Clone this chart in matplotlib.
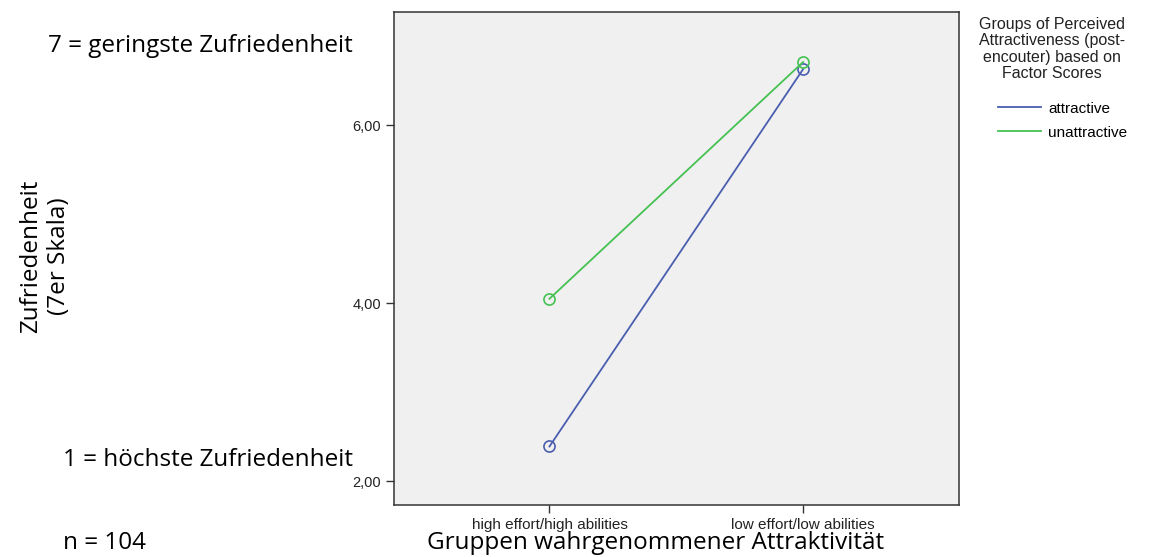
import numpy as np
import matplotlib
matplotlib.use("Agg")
import matplotlib.pyplot as plt
from matplotlib.lines import Line2D

# Daten (Mittelwerte der Zufriedenheit je Gruppe)
kategorien = ['high effort/high abilities', 'low effort/low abilities']
attraktiv = [2.39, 6.63]
unattraktiv = [4.05, 6.71]
gruppen = ['attractive', 'unattractive']
farben = ['#4a5eb0', '#45c152']
y_ticks = [2.0, 4.0, 6.0]

fig = plt.figure(figsize=(11.58, 5.57), dpi=100)
ax = fig.add_axes([0.340, 0.093, 0.488, 0.885])
ax.set_facecolor('#f0f0f0')

x = np.arange(len(kategorien))
for werte, farbe in zip([attraktiv, unattraktiv], farben):
    ax.plot(x, werte, color=farbe, linewidth=1.3, marker='o', markersize=8,
            markerfacecolor='none', markeredgecolor=farbe, markeredgewidth=1.2)

ax.set_xlim(-0.614, 1.614)
ax.set_ylim(1.73, 7.27)
ax.set_xticks(x)
ax.set_xticklabels(kategorien, fontsize=11, family='Liberation Sans', color='#222222')
ax.set_yticks(y_ticks)
ax.set_yticklabels([f'{v:.2f}'.replace('.', ',') for v in y_ticks],
                   fontsize=10.5, family='Liberation Sans', color='#222222')
ax.tick_params(length=6, width=1, color='#333333', pad=3)
for s in ax.spines.values():
    s.set_color('#333333')
    s.set_linewidth(1.1)

# Legende (Titel separat, damit der Abstand stimmt)
fig.text(0.9085, 0.970,
         'Groups of Perceived\nAttractiveness (post-\nencouter) based on\nFactor Scores',
         ha='center', va='top', multialignment='center', linespacing=1.12,
         family='Liberation Sans', fontsize=11.5, color='#222222')
handles = [Line2D([0], [0], color=f, linewidth=1.3) for f in farben]
leg = fig.legend(handles, gruppen, loc='upper left', bbox_to_anchor=(0.855, 0.831),
                 frameon=False, borderpad=0, handlelength=2.8, handletextpad=0.5,
                 labelspacing=0.65,
                 prop={'family': 'Liberation Sans', 'size': 11})

# Beschriftungen
gross = {'family': 'Open Sans', 'fontsize': 17.5, 'color': 'black'}
fig.text(0.0415, 0.917, '7 = geringste Zufriedenheit', va='center', ha='left', **gross)
fig.text(0.054, 0.174, '1 = höchste Zufriedenheit', va='center', ha='left', **gross)
fig.text(0.054, 0.025, 'n = 104', va='center', ha='left', **gross)
fig.text(0.039, 0.54, 'Zufriedenheit\n(7er Skala)', rotation=90, va='center', ha='center',
         multialignment='center', linespacing=1.25, **gross)
fig.text(0.566, 0.025, 'Gruppen wahrgenommener Attraktivität', va='center', ha='center', **gross)

fig.savefig('out.png', dpi=100)
